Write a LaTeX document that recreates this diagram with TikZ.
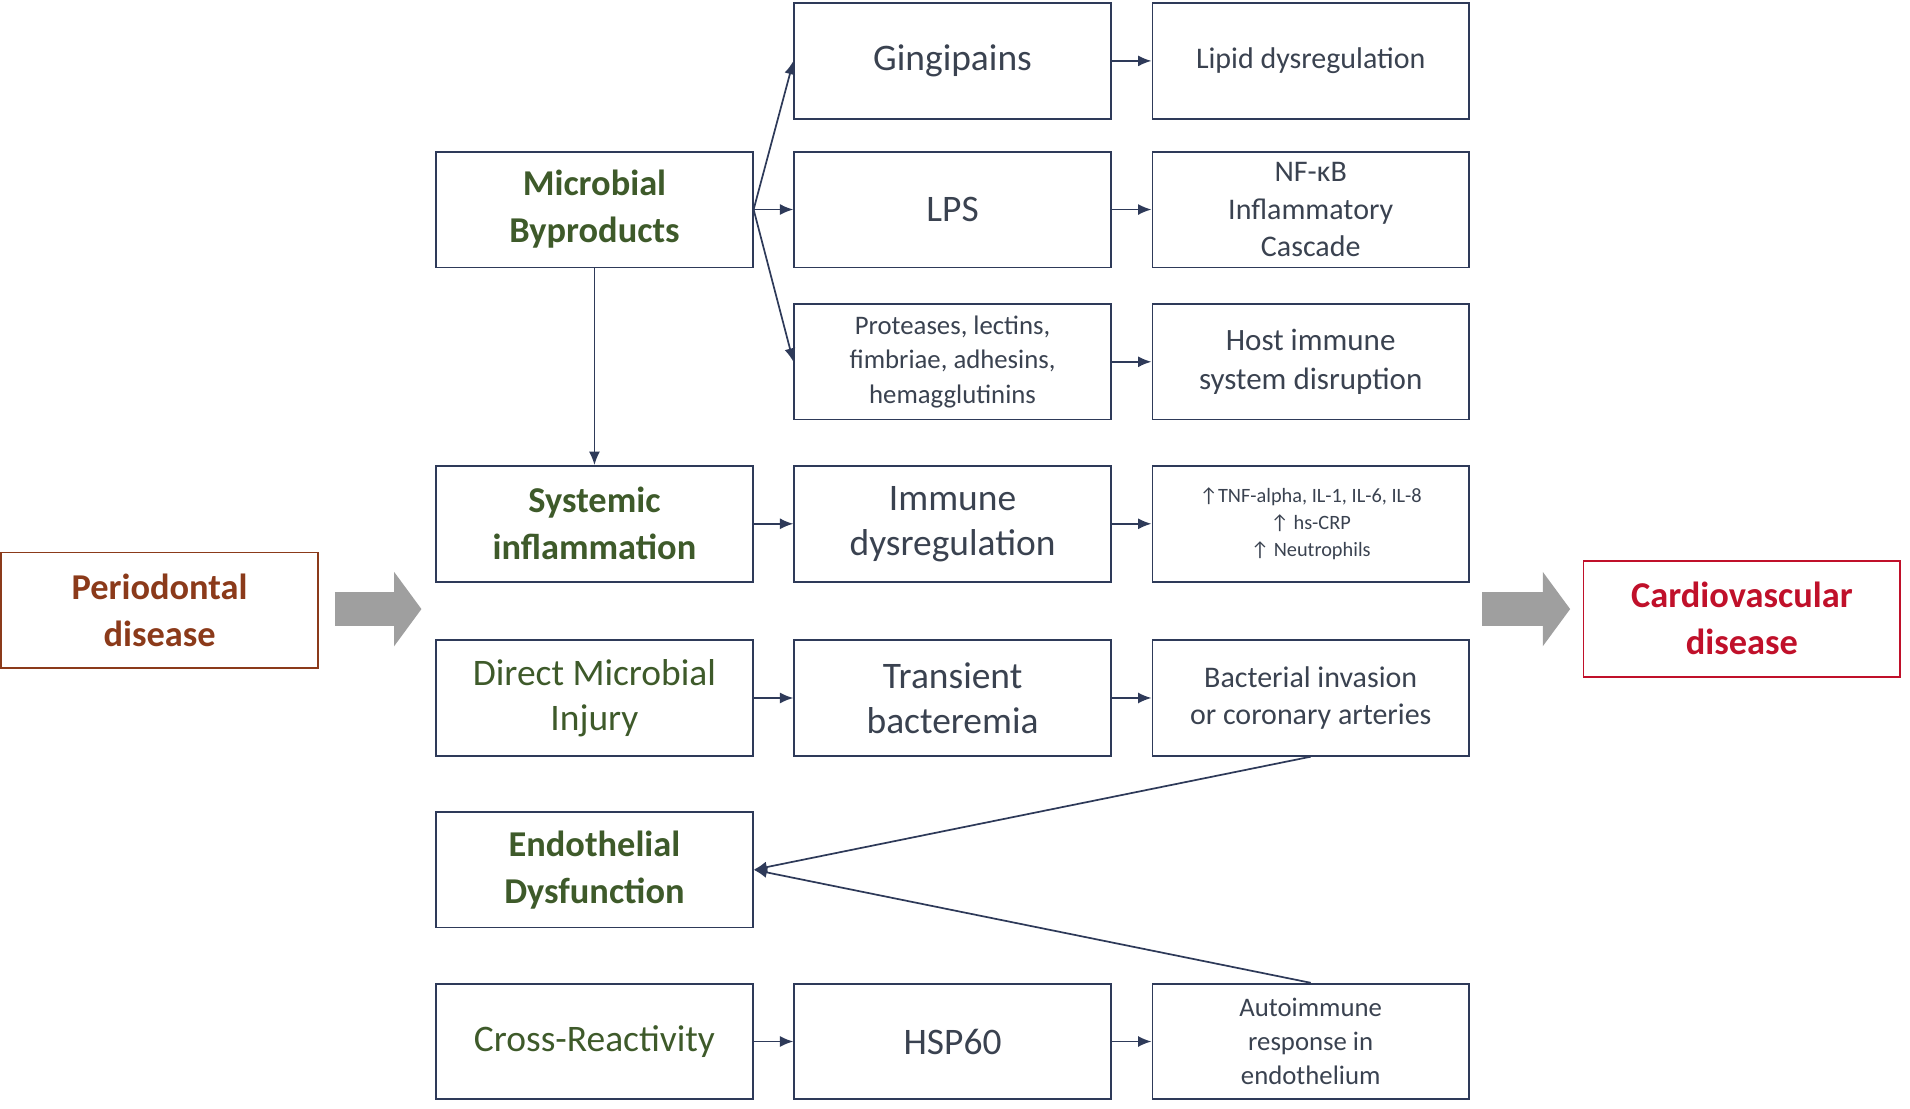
\documentclass[tikz,border=0pt]{standalone}
\usepackage{fontspec}
\setmainfont{Carlito}
\usepackage{tikz}
\usetikzlibrary{positioning, calc, arrows.meta}
\definecolor{boxline}{HTML}{2E3A59}
\definecolor{headgreen}{HTML}{3E5A2A}
\definecolor{perbrown}{HTML}{8B3A1A}
\definecolor{cvred}{HTML}{C0102A}
\definecolor{txtgrey}{HTML}{3A4250}
\tikzset{
  box/.style={draw=boxline, thick, minimum width=5.2cm, minimum height=1.9cm, align=center, text=txtgrey, font=\fontsize{17.5}{21}\selectfont},
  headbox/.style={box, text=headgreen, font=\fontsize{17}{22}\selectfont\bfseries},
  smallbox/.style={box, font=\fontsize{12.5}{16}\selectfont},
  conn/.style={-{Latex[length=2.2mm,width=1.8mm]}, boxline, thick},
  bigarrow/.style={line width=5.5mm, gray!75, -{Triangle[length=4.5mm,width=12mm]}}
}
\begin{document}
\begin{tikzpicture}[x=0.02cm, y=-0.02cm]
  \useasboundingbox (0,0) rectangle (1568,910);

  % outer nodes
  \node[box, draw=perbrown, text=perbrown, font=\fontsize{17}{22}\selectfont\bfseries] (perio) at (131,501) {Periodontal\\disease};
  \node[box, draw=cvred, text=cvred, font=\fontsize{17}{22}\selectfont\bfseries] (cardio) at (1430,508) {Cardiovascular\\disease};

  % first column
  \node[headbox] (microb) at (488,172) {Microbial\\Byproducts};
  \node[headbox] (sysinf) at (488,430) {Systemic\\inflammation};
  \node[box, text=headgreen] (direct) at (488,573) {Direct Microbial\\Injury};
  \node[headbox] (endo) at (488,714) {Endothelial\\Dysfunction};
  \node[box, text=headgreen] (cross) at (488,855) {Cross-Reactivity};

  % second column
  \node[box] (gingi) at (782,50) {Gingipains};
  \node[box] (lps) at (782,172) {LPS};
  \node[smallbox] (prot) at (782,297) {Proteases, lectins,\\fimbriae, adhesins,\\hemagglutinins};
  \node[box] (immdys) at (782,430) {Immune\\dysregulation};
  \node[box] (trans) at (782,573) {Transient\\bacteremia};
  \node[box] (hsp) at (782,855) {HSP60};

  % third column
  \node[smallbox, font=\fontsize{14}{17.5}\selectfont] (lipid) at (1076,50) {Lipid dysregulation};
  \node[smallbox, font=\fontsize{14}{17.5}\selectfont] (nfkb) at (1076,172) {NF-κB\\Inflammatory\\Cascade};
  \node[smallbox, font=\fontsize{14.5}{18.5}\selectfont] (host) at (1076,297) {Host immune\\system disruption};
  \node[smallbox, font=\fontsize{9.5}{12.5}\selectfont] (tnf) at (1076,430) {↑TNF-alpha, IL-1, IL-6, IL-8\\↑ hs-CRP\\↑ Neutrophils};
  \node[smallbox, font=\fontsize{14}{17.5}\selectfont] (bact) at (1076,573) {Bacterial invasion\\or coronary arteries};
  \node[smallbox] (auto) at (1076,855) {Autoimmune\\response in\\endothelium};

  % connectors
  \draw[conn] (microb.east) -- (gingi.west);
  \draw[conn] (microb.east) -- (lps.west);
  \draw[conn] (microb.east) -- (prot.west);
  \draw[conn] (microb.south) -- (sysinf.north);
  \draw[conn] (gingi) -- (lipid);
  \draw[conn] (lps) -- (nfkb);
  \draw[conn] (prot) -- (host);
  \draw[conn] (sysinf) -- (immdys);
  \draw[conn] (immdys) -- (tnf);
  \draw[conn] (direct) -- (trans);
  \draw[conn] (trans) -- (bact);
  \draw[conn] (cross) -- (hsp);
  \draw[conn] (hsp) -- (auto);
  \draw[conn] (bact.south) -- (endo.east);
  \draw[conn] (auto.north) -- (endo.east);

  % big arrows
  \coordinate (pa) at (275,500);
  \coordinate (pb) at (346,500);
  \coordinate (ca) at (1217,500);
  \coordinate (cb) at (1289,500);
  \draw[bigarrow] (pa) -- (pb);
  \draw[bigarrow] (ca) -- (cb);
\end{tikzpicture}
\end{document}
